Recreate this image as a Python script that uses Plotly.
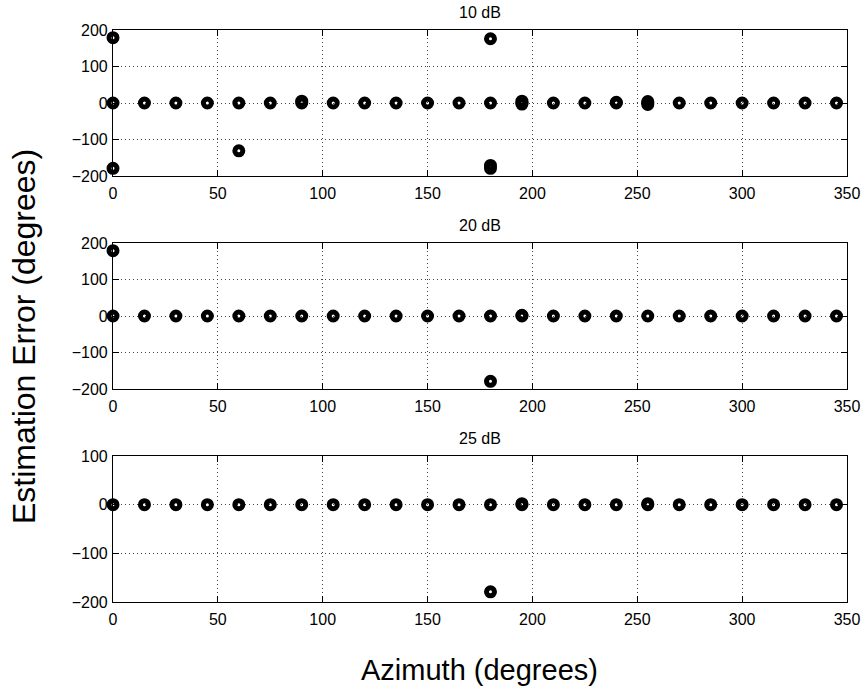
import plotly.graph_objects as go

# Azimuth grid (degrees)
azimuth = [0, 15, 30, 45, 60, 75, 90, 105, 120, 135, 150, 165,
           180, 195, 210, 225, 240, 255, 270, 285, 300, 315, 330, 345]

# Baseline estimation errors (degrees) per SNR
err_10dB = [0, 0, 0, 0, 0, 0, 0, 0, 0, 0, 0, 0,
            0, 0, 0, 0, 0, 0, 0, 0, 0, 0, 0, 0]
err_20dB = [0, 0, 0, 0, 0, 0, 0, 0, 0, 0, 0, 0,
            0, 0, 0, 0, 0, 0, 0, 0, 0, 0, 0, 0]
err_25dB = [0, 0, 0, 0, 0, 0, 0, 0, 0, 0, 0, 0,
            0, 0, 0, 0, 0, 0, 0, 0, 0, 0, 0, 0]

# Additional trials (outliers / repeated estimates)
extra_10dB_az = [0, 0, 60, 90, 180, 180, 180, 195, 195, 240, 255, 255]
extra_10dB_err = [179, -179, -131, 5, 176, -171, -179, 5, -3, 2, 4, -4]
extra_20dB_az = [0, 180, 195]
extra_20dB_err = [179, -179, 2]
extra_25dB_az = [180, 195, 255]
extra_25dB_err = [-179, 2, 2]

titles = ["10 dB", "20 dB", "25 dB"]
y_ranges = [[-200, 200], [-200, 200], [-200, 100]]
y_ticks = [[-200, -100, 0, 100, 200], [-200, -100, 0, 100, 200], [-200, -100, 0, 100]]
x_ticks = [0, 50, 100, 150, 200, 250, 300, 350]

W, H = 865, 689
px_left, px_right = 113, 847
panel_px = [(30, 176), (243, 389), (456, 602)]

panels = [
    (azimuth + extra_10dB_az, err_10dB + extra_10dB_err),
    (azimuth + extra_20dB_az, err_20dB + extra_20dB_err),
    (azimuth + extra_25dB_az, err_25dB + extra_25dB_err),
]

fig = go.Figure()
font_family = "Liberation Sans, Arial, Helvetica, sans-serif"

for i, (xs, ys) in enumerate(panels):
    n = "" if i == 0 else str(i + 1)
    fig.add_trace(go.Scatter(
        x=xs, y=ys, mode="markers",
        marker=dict(symbol="circle-open", size=8, color="black",
                    line=dict(width=5, color="black")),
        cliponaxis=False, showlegend=False, hoverinfo="skip",
        xaxis="x" + n, yaxis="y" + n,
    ))
    top, bot = panel_px[i]
    dom_y = [1 - bot / H, 1 - top / H]
    axis_common = dict(
        showline=True, linecolor="black", linewidth=1.2, mirror="ticks",
        ticks="inside", ticklen=6, tickcolor="black", tickwidth=1,
        showgrid=True, gridcolor="#444", griddash="1px,3px", gridwidth=1,
        zeroline=False, automargin=False,
        tickfont=dict(size=16, color="black", family=font_family),
    )
    fig.layout["xaxis" + n] = dict(
        axis_common, domain=[px_left / W, px_right / W], range=[0, 350],
        tickvals=x_ticks, anchor="y" + n, ticklabelstandoff=3,
    )
    fig.layout["yaxis" + n] = dict(
        axis_common, domain=dom_y, range=y_ranges[i], tickvals=y_ticks[i],
        anchor="x" + n, ticklabelstandoff=1,
    )
    fig.add_annotation(
        x=(px_left + px_right) / 2 / W, y=1 - (top - 17.5) / H, xref="paper", yref="paper",
        text=titles[i], showarrow=False, xanchor="center", yanchor="middle",
        font=dict(size=16, color="black", family=font_family),
    )

fig.add_annotation(
    x=24 / W, y=1 - 337 / H, xref="paper", yref="paper",
    text="Estimation Error (degrees)", textangle=-90, showarrow=False,
    xanchor="center", yanchor="middle",
    font=dict(size=32, color="black", family=font_family),
)
fig.add_annotation(
    x=480 / W, y=1 - 670 / H, xref="paper", yref="paper",
    text="Azimuth (degrees)", showarrow=False,
    xanchor="center", yanchor="middle",
    font=dict(size=29, color="black", family=font_family),
)

fig.update_layout(
    template="none",
    width=W, height=H, margin=dict(l=0, r=0, t=0, b=0, pad=0, autoexpand=False),
    paper_bgcolor="white", plot_bgcolor="white",
    font=dict(family=font_family, color="black"),
)

fig.write_html(
    "out.html",
    config={"displayModeBar": False},
    post_script="document.body.style.margin='0px';document.body.style.overflow='hidden';",
)
